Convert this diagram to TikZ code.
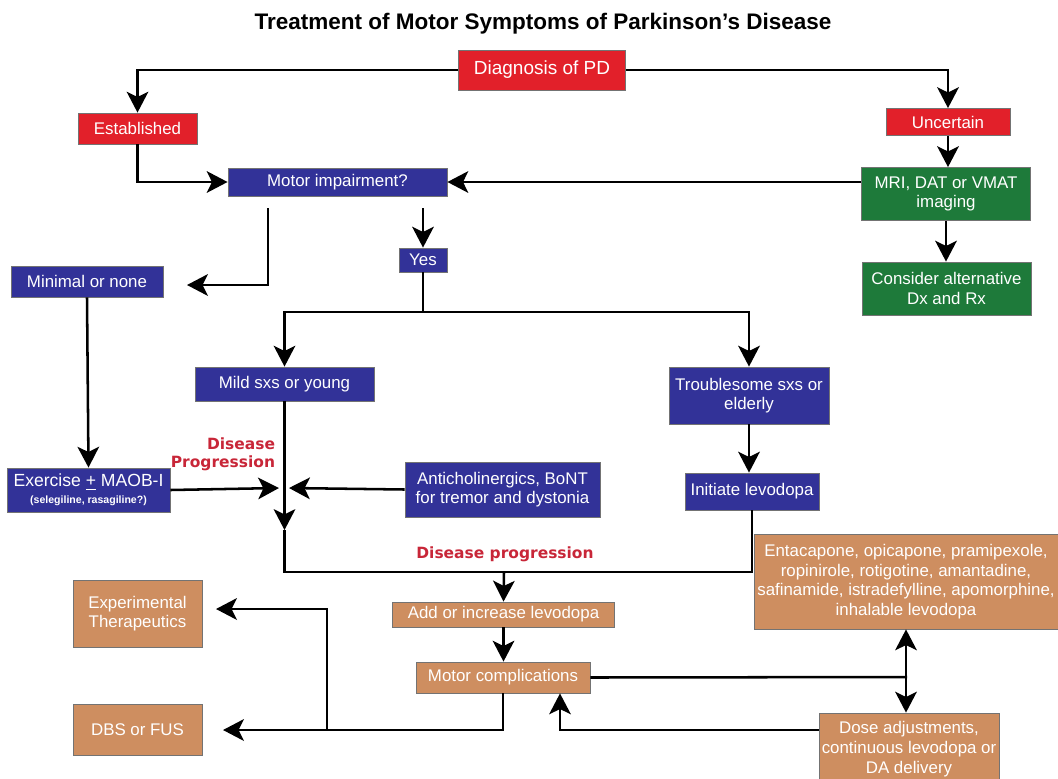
\documentclass[tikz,border=0pt]{standalone}
\usepackage{fontspec}
\setmainfont{Liberation Sans}
\newfontfamily\labelfont{DejaVu Sans}
\usepackage{xcolor}
\usetikzlibrary{positioning,arrows.meta}

\definecolor{pdred}{RGB}{226,32,42}
\definecolor{pdblue}{RGB}{50,50,152}
\definecolor{pdgreen}{RGB}{30,122,58}
\definecolor{pdorange}{RGB}{206,142,96}
\definecolor{pdtext}{RGB}{200,38,56}

\begin{document}
\begin{tikzpicture}[x=0.025cm, y=-0.025cm,
                    every node/.append style = {font=\fontsize{12}{14}\selectfont, text=white, align=center},
                    box/.style = {draw=black!55, line width=0.6pt, inner sep=2pt},
                    boxsize/.style 2 args = {minimum width=#1*0.025cm, minimum height=#2*0.025cm},
                    redbox/.style = {box, fill=pdred},
                    bluebox/.style = {box, fill=pdblue},
                    greenbox/.style = {box, fill=pdgreen},
                    orangebox/.style = {box, fill=pdorange},
                    redlabel/.style = {text=pdtext, font=\labelfont\bfseries\fontsize{11}{12.5}\selectfont},
                    arr/.style = {line width=1.8pt, -{Stealth[length=5.2mm, width=5.4mm, inset=1.3mm]}},
                    dblarr/.style = {line width=1.8pt, {Stealth[length=5.2mm, width=5.4mm, inset=1.3mm]}-{Stealth[length=5.2mm, width=5.4mm, inset=1.3mm]}},
                    line/.style = {line width=1.8pt}]
    \useasboundingbox (0,0) rectangle (1058,778);

    \node[text=black, font=\bfseries\fontsize{16}{18}\selectfont] (title) at (543,24) {Treatment of Motor Symptoms of Parkinson’s Disease};

    % diagnosis
    \node[redbox, boxsize={167}{40}, font=\fontsize{13.5}{15}\selectfont] (diag) at (542,70) {Diagnosis of PD};
    \node[redbox, boxsize={119}{31}] (estab) at (137.5,128.5) {Established};
    \node[redbox, boxsize={124}{27}] (uncert) at (948,122) {Uncertain};
    \node[bluebox, boxsize={219}{28}] (motor) at (337.5,182) {Motor impairment?};
    \node[greenbox, boxsize={169}{53}] (mri) at (946,194) {MRI, DAT or VMAT\\imaging};
    \node[greenbox, boxsize={169}{53}] (alt) at (946.5,288.5) {Consider alternative\\Dx and Rx};
    \node[bluebox, boxsize={48}{24}] (yes) at (423,260) {Yes};
    \node[bluebox, boxsize={152}{31}] (minimal) at (87,281.5) {Minimal or none};

    % symptoms
    \node[bluebox, boxsize={179}{34}] (mild) at (284.5,384) {Mild sxs or young};
    \node[bluebox, boxsize={160}{57}] (trouble) at (749,395.5) {Troublesome sxs or\\elderly};
    \node[bluebox, boxsize={134}{37}] (initiate) at (752,491.5) {Initiate levodopa};
    \node[bluebox, boxsize={163}{44}, font=\fontsize{12.5}{13}\selectfont] (exercise) at (88.5,490) {Exercise \underline{+} MAOB-I\\[-1pt]{\bfseries\fontsize{7.5}{9}\selectfont (selegiline, rasagiline?)}};
    \node[bluebox, boxsize={195}{55}] (antichol) at (502.5,489.5) {Anticholinergics, BoNT\\for tremor and dystonia};
    \node[redlabel, align=right, anchor=east] (progress) at (280,454) {Disease\\Progression};
    \node[redlabel] (progress2) at (505,554) {Disease progression};

    % complications
    \node[orangebox, boxsize={222}{25}] (addlevo) at (503.5,614.5) {Add or increase levodopa};
    \node[orangebox, boxsize={174}{31}] (motcomp) at (503,677.5) {Motor complications};
    \node[orangebox, boxsize={129}{67}] (exper) at (137.5,613.5) {Experimental\\Therapeutics};
    \node[orangebox, boxsize={129}{51}] (dbs) at (137.5,729.5) {DBS or FUS};
    \node[orangebox, boxsize={304}{95}] (entac) at (906,581.5) {Entacapone, opicapone, pramipexole,\\ropinirole, rotigotine, amantadine,\\safinamide, istradefylline, apomorphine,\\inhalable levodopa};
    \node[orangebox, boxsize={180}{72}] (dose) at (909,749) {Dose adjustments,\\continuous levodopa or\\DA delivery};

    \coordinate (yestop) at (423,208);
    \coordinate (minturn) at (268,208);
    \coordinate (mintip) at (187,285);
    \coordinate (split) at (423,312);
    \coordinate (midtip) at (284.5,530);
    \coordinate (lefttip) at (279,488);
    \coordinate (righttip) at (289,488);
    \coordinate (levjoin) at (504,572);
    \coordinate (dbsjoin) at (327,730);
    \coordinate (dbstip) at (223,730);
    \coordinate (expertip) at (216,609);
    \coordinate (sidejoin) at (907,677);
    \coordinate (returnturn) at (560,730);

    \draw[arr] (diag.west) -| (estab.north);
    \draw[arr] (diag.east) -| (uncert.north);
    \draw[arr] (estab.south) |- (motor.west);
    \draw[arr] (uncert.south) -- (uncert.south |- mri.north);
    \draw[arr] (mri.west |- motor.east) -- (motor.east);
    \draw[arr] (mri.south) -- (mri.south |- alt.north);
    \draw[arr] (yestop) -- (yes.north);
    \draw[arr] (minturn) |- (mintip);
    \draw[line] (yes.south) -- (split);
    \draw[arr] (split) -| (mild.north);
    \draw[arr] (split) -| (trouble.north);
    \draw[arr] (minimal.south) -- (exercise.north);
    \draw[arr] (trouble.south) -- (trouble.south |- initiate.north);
    \draw[arr] (mild.south) -- (midtip);
    \draw[arr] (exercise.east) -- (lefttip);
    \draw[arr] (antichol.west) -- (righttip);
    \draw[line] (midtip) -- (midtip |- levjoin) -| (initiate.south);
    \draw[arr] (levjoin) -- (addlevo.north);
    \draw[arr] (addlevo) -- (addlevo |- motcomp.north);
    \draw[arr] (motcomp.south) |- (dbstip);
    \draw[arr] (dbsjoin) |- (expertip);
    \draw[line] (motcomp.east) -- (sidejoin);
    \draw[dblarr] (entac.south) -- (entac.south |- dose.north);
    \draw[arr] (dose.west |- returnturn) -- (returnturn) -- (returnturn |- motcomp.south);
\end{tikzpicture}
\end{document}
